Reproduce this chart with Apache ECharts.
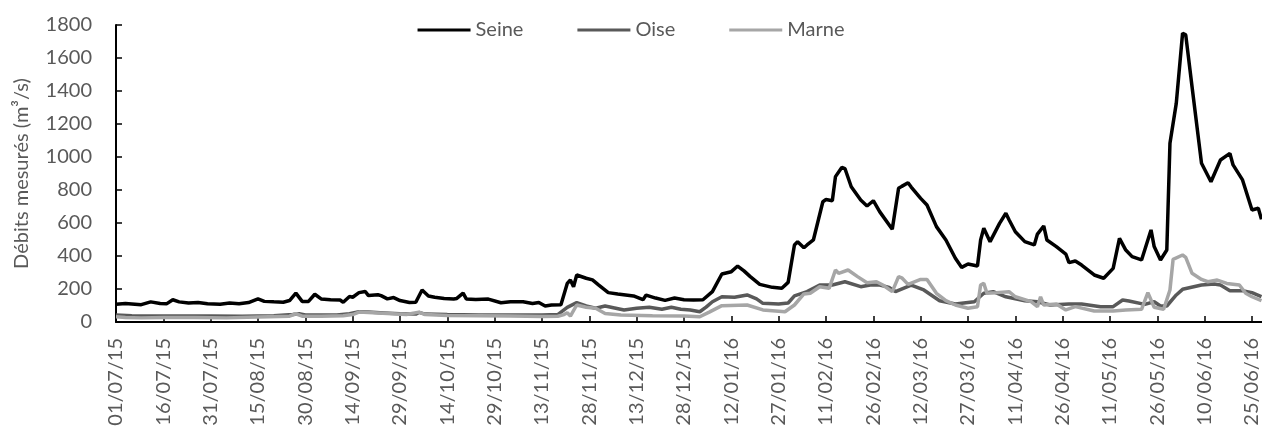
<!DOCTYPE html>
<html>
<head>
<meta charset="utf-8">
<script src="https://cdn.jsdelivr.net/npm/echarts@6/dist/echarts.min.js"></script>
<style>
html,body{margin:0;padding:0;background:#fff;}
#chart{width:1262px;height:430px;}
</style>
</head>
<body>
<div id="chart"></div>
<script>
// ---- Data ----
const seriesNames = ['Seine', 'Oise', 'Marne'];
const startDate = '2015-07-01';
const endDate = '2016-06-28';
const yTicks = { min: 0, max: 1800, step: 200 };

const seine = [
['2015-07-01',107],['2015-07-04',112],['2015-07-07',108],['2015-07-09',105],['2015-07-12',122],['2015-07-15',112],
['2015-07-17',110],['2015-07-19',135],['2015-07-21',122],['2015-07-24',115],['2015-07-27',118],['2015-07-30',110],
['2015-08-03',108],['2015-08-06',115],['2015-08-09',110],['2015-08-12',118],['2015-08-15',140],['2015-08-17',125],
['2015-08-20',122],['2015-08-23',120],['2015-08-25',130],['2015-08-27',175],['2015-08-29',125],['2015-08-31',125],
['2015-09-02',168],['2015-09-04',140],['2015-09-07',135],['2015-09-10',133],['2015-09-11',120],['2015-09-13',155],
['2015-09-14',150],['2015-09-16',178],['2015-09-18',185],['2015-09-19',160],['2015-09-22',165],['2015-09-23',160],
['2015-09-25',140],['2015-09-27',148],['2015-09-29',130],['2015-10-02',118],['2015-10-04',120],['2015-10-06',194],
['2015-10-08',158],['2015-10-10',150],['2015-10-13',143],['2015-10-16',140],['2015-10-17',143],['2015-10-19',175],
['2015-10-20',140],['2015-10-23',137],['2015-10-27',139],['2015-10-31',117],['2015-11-03',123],['2015-11-07',123],
['2015-11-10',112],['2015-11-12',118],['2015-11-14',97],['2015-11-16',103],['2015-11-19',105],['2015-11-21',234],
['2015-11-22',255],['2015-11-23',214],['2015-11-24',285],['2015-11-27',265],['2015-11-29',255],['2015-12-01',224],
['2015-12-04',178],['2015-12-07',170],['2015-12-12',158],['2015-12-15',135],['2015-12-16',163],['2015-12-19',145],
['2015-12-22',131],['2015-12-25',145],['2015-12-28',135],['2015-12-31',133],['2016-01-03',135],['2016-01-06',184],
['2016-01-09',291],['2016-01-12',305],['2016-01-14',339],['2016-01-16',310],['2016-01-18',275],['2016-01-21',228],
['2016-01-25',210],['2016-01-28',205],['2016-01-30',240],['2016-02-01',467],['2016-02-02',487],['2016-02-04',450],
['2016-02-05',467],['2016-02-07',497],['2016-02-10',729],['2016-02-11',742],['2016-02-13',735],['2016-02-14',881],
['2016-02-16',937],['2016-02-17',930],['2016-02-19',820],['2016-02-22',739],['2016-02-24',703],['2016-02-26',735],
['2016-02-28',669],['2016-03-03',562],['2016-03-05',810],['2016-03-06',822],['2016-03-08',844],['2016-03-09',818],
['2016-03-12',749],['2016-03-14',709],['2016-03-17',578],['2016-03-20',497],['2016-03-23',386],['2016-03-25',331],
['2016-03-27',352],['2016-03-30',339],['2016-03-31',497],['2016-04-01',568],['2016-04-03',487],['2016-04-06',598],
['2016-04-08',659],['2016-04-09',620],['2016-04-11',547],['2016-04-14',487],['2016-04-17',467],['2016-04-18',533],
['2016-04-20',582],['2016-04-21',497],['2016-04-24',457],['2016-04-27',412],['2016-04-28',360],['2016-04-30',370],
['2016-05-02',345],['2016-05-06',285],['2016-05-09',265],['2016-05-12',325],['2016-05-14',507],['2016-05-16',436],
['2016-05-18',396],['2016-05-21',376],['2016-05-24',558],['2016-05-25',457],['2016-05-27',376],['2016-05-29',436],
['2016-05-30',1083],['2016-06-01',1325],['2016-06-03',1750],['2016-06-04',1740],['2016-06-06',1426],['2016-06-09',962],
['2016-06-12',850],['2016-06-15',982],['2016-06-18',1022],['2016-06-19',952],['2016-06-22',861],['2016-06-25',679],
['2016-06-27',689],['2016-06-28',622]
];

const oise = [
['2015-07-01',42],['2015-07-06',38],['2015-07-11',36],['2015-07-21',37],['2015-07-31',36],['2015-08-10',35],
['2015-08-20',38],['2015-08-26',45],['2015-08-28',50],['2015-08-30',42],['2015-09-09',42],['2015-09-13',50],
['2015-09-16',62],['2015-09-19',60],['2015-09-24',55],['2015-09-29',50],['2015-10-04',48],['2015-10-05',58],
['2015-10-07',48],['2015-10-14',45],['2015-10-24',43],['2015-11-03',42],['2015-11-13',42],['2015-11-18',45],
['2015-11-21',89],['2015-11-24',117],['2015-11-27',97],['2015-11-30',83],['2015-12-03',97],['2015-12-06',85],
['2015-12-09',73],['2015-12-13',83],['2015-12-17',89],['2015-12-21',77],['2015-12-24',89],['2015-12-27',77],
['2015-12-30',73],['2016-01-02',62],['2016-01-04',90],['2016-01-06',123],['2016-01-09',153],['2016-01-13',150],
['2016-01-17',164],['2016-01-20',140],['2016-01-22',113],['2016-01-27',109],['2016-01-30',115],['2016-02-01',158],
['2016-02-05',184],['2016-02-09',224],['2016-02-13',224],['2016-02-17',244],['2016-02-22',214],['2016-02-25',224],
['2016-02-28',224],['2016-03-02',210],['2016-03-04',184],['2016-03-09',224],['2016-03-13',194],['2016-03-18',129],
['2016-03-23',109],['2016-03-29',123],['2016-04-01',174],['2016-04-04',184],['2016-04-08',153],['2016-04-14',129],
['2016-04-18',123],['2016-04-22',103],['2016-04-28',109],['2016-05-02',109],['2016-05-08',93],['2016-05-12',93],
['2016-05-15',133],['2016-05-17',127],['2016-05-22',107],['2016-05-25',123],['2016-05-27',97],['2016-05-29',97],
['2016-06-01',164],['2016-06-03',198],['2016-06-09',224],['2016-06-13',230],['2016-06-15',224],['2016-06-18',190],
['2016-06-22',190],['2016-06-25',178],['2016-06-28',153]
];

const marne = [
['2015-07-01',32],['2015-07-04',28],['2015-07-09',25],['2015-07-16',28],['2015-07-26',27],['2015-08-05',25],
['2015-08-15',30],['2015-08-25',35],['2015-08-27',50],['2015-08-29',35],['2015-09-04',35],['2015-09-11',38],
['2015-09-14',45],['2015-09-16',60],['2015-09-19',58],['2015-09-25',52],['2015-10-01',45],['2015-10-05',60],
['2015-10-07',45],['2015-10-14',40],['2015-10-24',38],['2015-11-03',36],['2015-11-13',33],['2015-11-18',35],
['2015-11-20',45],['2015-11-21',56],['2015-11-22',36],['2015-11-24',103],['2015-11-27',89],['2015-11-30',83],
['2015-12-03',52],['2015-12-08',42],['2015-12-18',38],['2015-12-28',36],['2016-01-02',32],['2016-01-05',60],
['2016-01-09',99],['2016-01-17',103],['2016-01-22',73],['2016-01-29',62],['2016-02-01',103],['2016-02-04',170],
['2016-02-06',174],['2016-02-09',214],['2016-02-12',204],['2016-02-14',315],['2016-02-15',295],['2016-02-18',315],
['2016-02-21',275],['2016-02-24',238],['2016-02-27',244],['2016-02-29',224],['2016-03-03',184],['2016-03-05',275],
['2016-03-06',268],['2016-03-08',228],['2016-03-12',258],['2016-03-14',258],['2016-03-17',174],['2016-03-20',129],
['2016-03-23',103],['2016-03-27',83],['2016-03-30',93],['2016-03-31',224],['2016-04-01',234],['2016-04-02',174],
['2016-04-05',178],['2016-04-09',184],['2016-04-11',153],['2016-04-16',123],['2016-04-18',93],['2016-04-19',153],
['2016-04-20',103],['2016-04-24',109],['2016-04-27',73],['2016-04-30',93],['2016-05-06',67],['2016-05-12',67],
['2016-05-16',73],['2016-05-21',77],['2016-05-23',178],['2016-05-25',89],['2016-05-28',77],['2016-05-30',194],
['2016-05-31',380],['2016-06-03',406],['2016-06-04',392],['2016-06-06',295],['2016-06-09',258],['2016-06-11',244],
['2016-06-14',254],['2016-06-17',234],['2016-06-21',224],['2016-06-23',174],['2016-06-25',153],['2016-06-28',129]
];

// ---- Helpers ----
const DAY = 86400000;
const t0 = Date.parse(startDate);
const toDay = s => Math.round((Date.parse(s) - t0) / DAY);
const pad = n => (n < 10 ? '0' : '') + n;
const dayLabel = v => {
  const d = new Date(t0 + v * DAY);
  return pad(d.getUTCDate()) + '/' + pad(d.getUTCMonth() + 1) + '/' + String(d.getUTCFullYear()).slice(2);
};
const conv = arr => arr.map(([d, v]) => [toDay(d), v]);

const textColor = '#595959';
const font = 'Lato';
const colors = ['#000000', '#595959', '#A6A6A6'];

const chart = echarts.init(document.getElementById('chart'), null, { renderer: 'canvas' });
chart.setOption({
  animation: false,
  textStyle: { fontFamily: font },
  color: colors,
  legend: {
    top: 15,
    left: 'center',
    itemWidth: 53,
    itemHeight: 3,
    itemGap: 54,
    icon: 'rect',
    textStyle: { fontSize: 20, color: textColor, fontFamily: font },
    data: seriesNames
  },
  grid: { left: 116, right: 0, top: 25, bottom: 108, containLabel: false },
  xAxis: {
    type: 'value',
    min: 0,
    max: toDay(endDate),
    interval: 15,
    splitLine: { show: false },
    axisLine: { show: true, lineStyle: { color: '#000', width: 2 } },
    axisTick: { show: true, inside: true, length: 6, lineStyle: { color: '#000', width: 1.5 } },
    axisLabel: {
      rotate: 90,
      margin: 16,
      fontSize: 20,
      color: textColor,
      fontFamily: font,
      showMaxLabel: false,
      formatter: v => (v % 15 === 0 ? dayLabel(v) : '')
    }
  },
  yAxis: {
    type: 'value',
    min: yTicks.min,
    max: yTicks.max,
    interval: yTicks.step,
    name: 'Débits mesurés (m³/s)',
    nameLocation: 'middle',
    nameRotate: 90,
    nameGap: 84,
    nameTextStyle: { fontSize: 20, color: textColor, fontFamily: font },
    splitLine: { show: false },
    axisLine: { show: true, lineStyle: { color: '#000', width: 2 } },
    axisTick: { show: true, inside: true, length: 6, lineStyle: { color: '#000', width: 1.5 } },
    axisLabel: { margin: 24, fontSize: 20, color: textColor, fontFamily: font, formatter: v => String(v) }
  },
  series: [
    { name: seriesNames[0], type: 'line', data: conv(seine), symbol: 'none', lineStyle: { width: 3.5, color: colors[0] }, itemStyle: { color: colors[0] }, z: 4 },
    { name: seriesNames[1], type: 'line', data: conv(oise), symbol: 'none', lineStyle: { width: 3.5, color: colors[1] }, itemStyle: { color: colors[1] }, z: 2 },
    { name: seriesNames[2], type: 'line', data: conv(marne), symbol: 'none', lineStyle: { width: 3.5, color: colors[2] }, itemStyle: { color: colors[2] }, z: 3 }
  ]
});
</script>
</body>
</html>
